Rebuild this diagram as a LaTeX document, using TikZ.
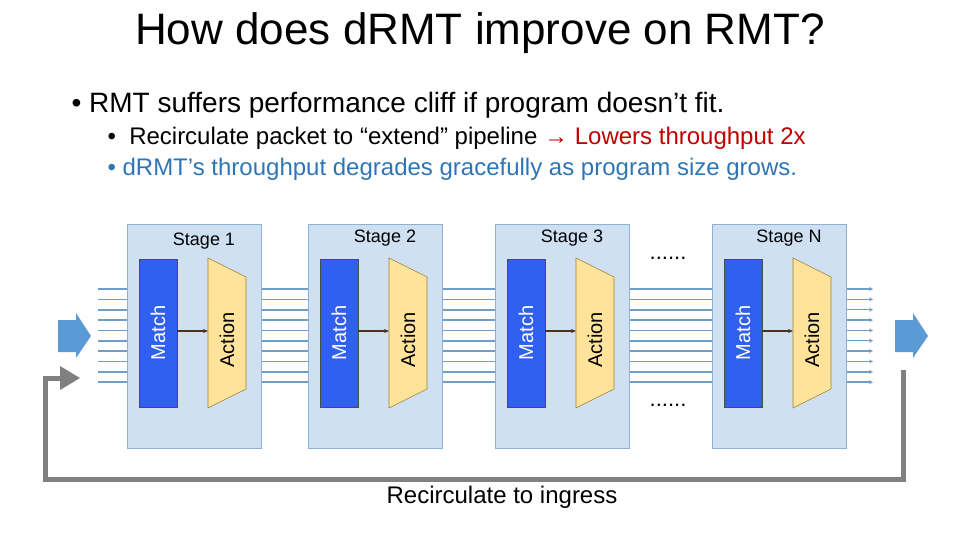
\documentclass[tikz,border=0pt]{standalone}
\usepackage{fontspec}
\setmainfont{Liberation Sans}
\usetikzlibrary{arrows.meta}
\definecolor{stagefill}{HTML}{CFE0F2}
\definecolor{stageedge}{HTML}{8FB0D0}
\definecolor{wire}{HTML}{6F9FC8}
\definecolor{matchfill}{HTML}{3060F0}
\definecolor{actfill}{HTML}{FFE39A}
\definecolor{actedge}{HTML}{A08030}
\definecolor{darkred}{HTML}{C00000}
\definecolor{bulletblue}{HTML}{2E75B6}
\definecolor{blockblue}{HTML}{5B9BD5}
\tikzset{
  stagebox/.style={draw=stageedge,fill=stagefill,line width=0.8pt},
  matchbox/.style={draw=black!70,fill=matchfill,line width=0.6pt},
  actbox/.style={draw=actedge,fill=actfill,line width=0.6pt},
  wireline/.style={draw=wire,line width=1.6pt},
  lab/.style={font=\fontsize{18}{20}\selectfont},
  mlab/.style={font=\fontsize{20}{22}\selectfont,rotate=90},
}
\begin{document}
\begin{tikzpicture}[x=1pt,y=-1pt]
\useasboundingbox (0,0) rectangle (960,540);
\node (title) at (480,33) {\fontsize{44}{48}\selectfont How does d\hspace{0pt}RMT improve on RMT?};
\node[anchor=west] (b1) at (68,105) {\fontsize{28}{32}\selectfont • RMT suffers performance cliff if program doesn’t fit.};
\node[anchor=west] (b2) at (104,138) {\fontsize{24}{28}\selectfont • \ Recirculate packet to “extend” pipeline \textcolor{darkred}{→ Lowers throughput 2x}};
\node[anchor=west,text=bulletblue] (b3) at (104,169) {\fontsize{24}{28}\selectfont • d\hspace{0pt}RMT’s throughput degrades gracefully as program size grows.};
% wires
\foreach \i in {0,...,9}{
  \pgfmathsetmacro\yy{289+\i*10.35}
  \draw[wireline] (98,\yy) -- (127,\yy);
  \draw[wireline] (261,\yy) -- (308,\yy);
  \draw[wireline] (442,\yy) -- (495,\yy);
  \draw[wireline] (628,\yy) -- (712,\yy);
  \draw[wire,line width=1.4pt,-{Stealth[length=4pt,width=4pt]}] (846,\yy) -- (873,\yy);
}
% stages
\foreach \n/\x/\lbl/\ly in {s1/127/Stage 1/241,s2/308/Stage 2/238,s3/495/Stage 3/238,sn/712/Stage N/238}{
  \draw[stagebox] (\x,224) rectangle ++(134,224);
  \node[lab] (\n lab) at (\x+77,\ly) {\lbl};
  \draw[matchbox] (\x+12,259) rectangle ++(38,148);
  \node[mlab,text=white] (\n m) at (\x+31,333) {Match};
  \draw[actbox] (\x+81,258) -- (\x+119,277) -- (\x+119,389) -- (\x+81,408) -- cycle;
  \node[mlab] (\n a) at (\x+100,340) {Action};
  \draw[draw=black!60!brown,line width=1.2pt,-{Stealth[length=5pt,width=4pt]}] (\x+50,331) -- (\x+81,331);
}
\node (dots1) at (668,258) {\fontsize{22}{24}\selectfont ......};
\node (dots2) at (668,405) {\fontsize{22}{24}\selectfont ......};
% block arrows
\foreach \bx in {58,895}{
  \fill[blockblue] (\bx,320) -- (\bx+18,320) -- (\bx+18,313) -- (\bx+33,336) -- (\bx+18,358) -- (\bx+18,352) -- (\bx,352) -- cycle;
}
% recirculation
\coordinate (r1) at (903,370);
\draw[draw=gray,line width=5pt] (r1) -- (903,479) -- (45,479) -- (45,378) -- (62,378);
\fill[gray] (60,366) -- (80,378) -- (60,390) -- cycle;
\node (rec) at (502,497) {\fontsize{24}{28}\selectfont Recirculate to ingress};
\end{tikzpicture}
\end{document}
